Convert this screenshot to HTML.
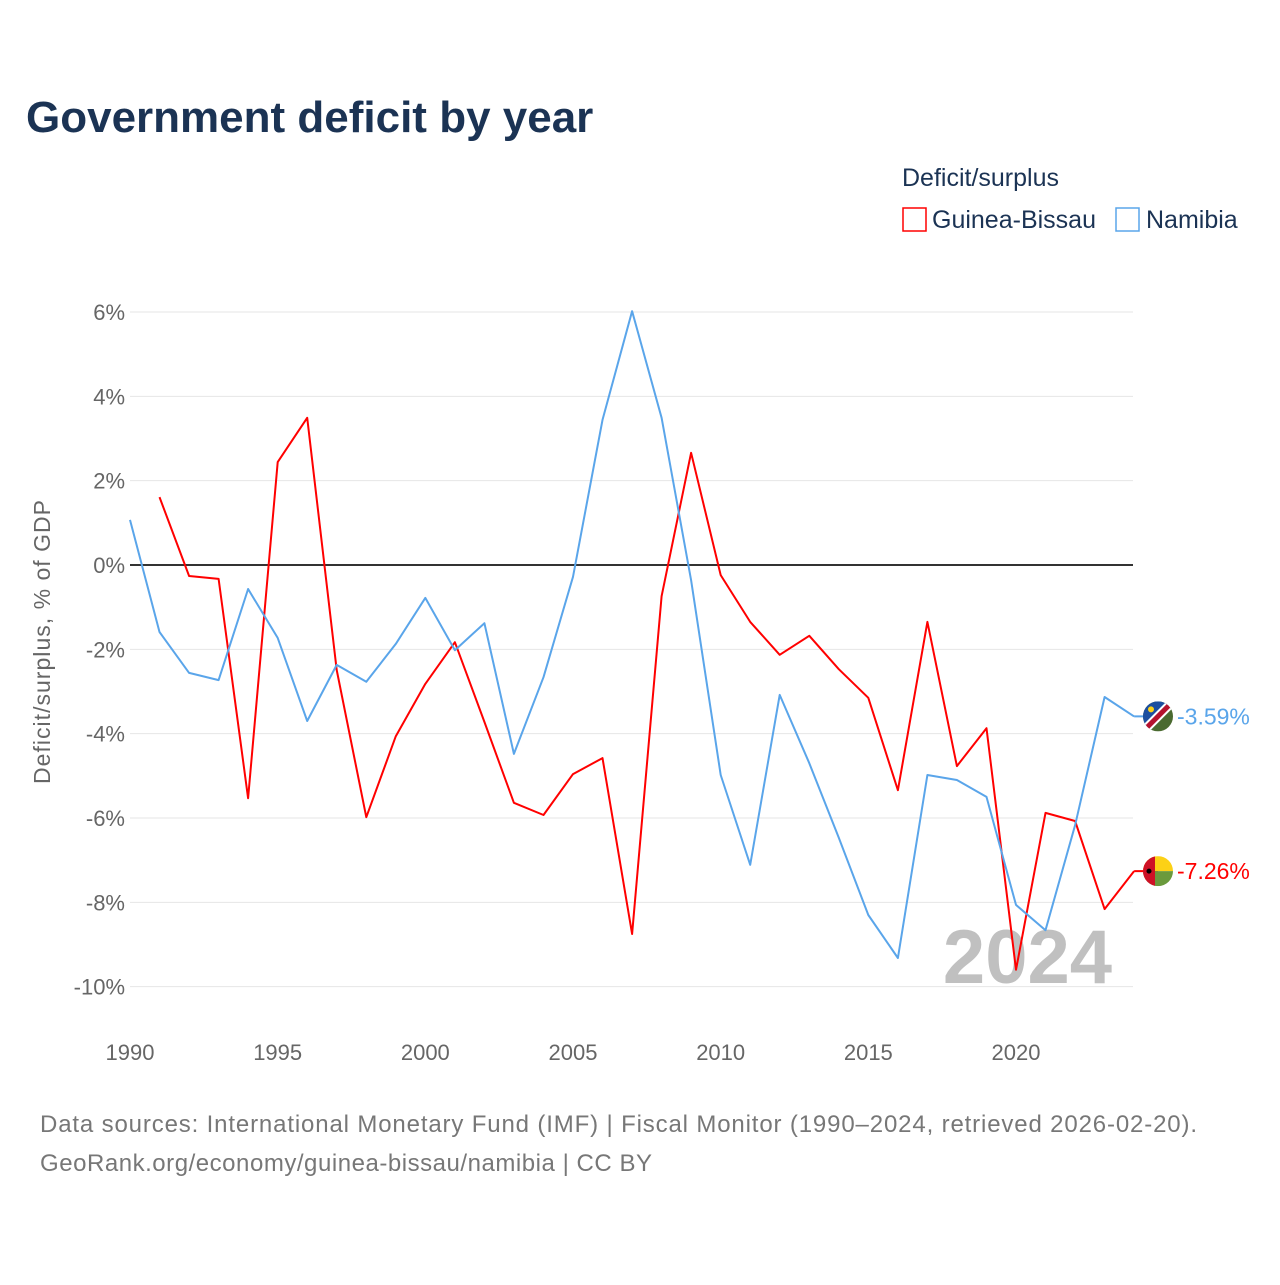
<!DOCTYPE html>
<html><head><meta charset="utf-8">
<style>
html,body{margin:0;padding:0;background:#fff;}
body{width:1280px;height:1280px;overflow:hidden;font-family:"Liberation Sans",sans-serif;}
svg text{font-family:"Liberation Sans",sans-serif;}
</style></head>
<body>
<svg id="chart" width="1280" height="1280" viewBox="0 0 1280 1280">
  <text x="26" y="132" font-size="44" font-weight="bold" fill="#1b3354">Government deficit by year</text>
  <text x="902" y="186" font-size="25" fill="#1b3354">Deficit/surplus</text>
  <g>
    <rect x="903" y="208" width="23" height="23" fill="none" stroke="#ff0000" stroke-width="1.5"/>
    <text x="932" y="228" font-size="25" fill="#1b3354">Guinea-Bissau</text>
  </g>
  <g>
    <rect x="1116" y="208" width="23" height="23" fill="none" stroke="#5aa5ea" stroke-width="1.5"/>
    <text x="1146" y="228" font-size="25" fill="#1b3354">Namibia</text>
  </g>
  <text transform="translate(50,642) rotate(-90)" text-anchor="middle" font-size="23" fill="#666" textLength="284" lengthAdjust="spacing">Deficit/surplus, % of GDP</text>
  <text x="1112" y="983" text-anchor="end" font-size="76" font-weight="bold" fill="#c0c0c0">2024</text>
  <g id="grid"></g>
  <g id="marks"></g>
  <text x="40" y="1132" font-size="24" fill="#777" textLength="1157" lengthAdjust="spacing">Data sources: International Monetary Fund (IMF) | Fiscal Monitor (1990–2024, retrieved 2026-02-20).</text>
  <text x="40" y="1171" font-size="24" fill="#777" textLength="612" lengthAdjust="spacing">GeoRank.org/economy/guinea-bissau/namibia | CC BY</text>
</svg>
<script>
const years = [1990,1991,1992,1993,1994,1995,1996,1997,1998,1999,2000,2001,2002,2003,2004,2005,2006,2007,2008,2009,2010,2011,2012,2013,2014,2015,2016,2017,2018,2019,2020,2021,2022,2023,2024];
const guineaBissau = [null,1.61,-0.26,-0.33,-5.53,2.44,3.49,-2.49,-5.98,-4.06,-2.82,-1.83,-3.72,-5.64,-5.93,-4.96,-4.58,-8.75,-0.74,2.66,-0.24,-1.35,-2.13,-1.68,-2.47,-3.15,-5.34,-1.35,-4.77,-3.87,-9.6,-5.88,-6.07,-8.16,-7.26];
const namibia = [1.07,-1.59,-2.56,-2.73,-0.57,-1.73,-3.70,-2.37,-2.77,-1.87,-0.78,-2.02,-1.38,-4.48,-2.66,-0.28,3.44,6.02,3.49,-0.36,-4.98,-7.11,-3.08,-4.70,-6.47,-8.30,-9.32,-4.98,-5.10,-5.50,-8.06,-8.66,-6.17,-3.13,-3.59];
const yTicks = [6,4,2,0,-2,-4,-6,-8,-10];
const xTicks = [1990,1995,2000,2005,2010,2015,2020];

const NS="http://www.w3.org/2000/svg";
const x = yr => 130 + (yr-1990)*(1016-130)/30;
const y = v => 565 - v*(565-312)/6;
const grid=document.getElementById('grid'), marks=document.getElementById('marks');
function mk(tag, attrs, parent){const e=document.createElementNS(NS,tag);for(const k in attrs)e.setAttribute(k,attrs[k]);parent.appendChild(e);return e;}

yTicks.forEach(t=>{
  const l=mk('line',{x1:130,x2:1133,y1:y(t),y2:y(t),stroke:t===0?'#333':'#e6e6e6','stroke-width':t===0?2:1},grid);
  
  
  const tx=mk('text',{x:125,y:y(t)+8,'text-anchor':'end','font-size':22,fill:'#666'},grid);
  tx.textContent=t+'%';
  
  
});
xTicks.forEach(t=>{
  const tx=mk('text',{x:x(t),y:1060,'text-anchor':'middle','font-size':22,fill:'#666'},grid);
  tx.textContent=t;
  
  
});

function series(vals,color,name){
  let d='';let pen=false;let last=null;
  vals.forEach((v,i)=>{if(v===null){pen=false;return;}d+=(pen?'L':'M')+x(years[i]).toFixed(1)+','+y(v).toFixed(1);pen=true;last=[x(years[i]),y(v),v];});
  const p=mk('path',{d:d,fill:'none',stroke:color,'stroke-width':2,'stroke-linejoin':'round'},marks);
  
  
  mk('line',{x1:last[0],y1:last[1],x2:1158,y2:last[1],stroke:color,'stroke-width':2},marks);
  return last;
}
const gb=series(guineaBissau,'#ff0000','guinea-bissau');
const nm=series(namibia,'#5aa5ea','namibia');

function flagGB(cy){
  const g=mk('g',{},marks);
  
  
  const cp=mk('clipPath',{id:'cgb'},g);mk('circle',{cx:1158,cy:cy,r:15},cp);
  const gg=mk('g',{'clip-path':'url(#cgb)'},g);
  mk('rect',{x:1143,y:cy-15,width:30,height:15,fill:'#fcd116'},gg);
  mk('rect',{x:1143,y:cy,width:30,height:15,fill:'#6a9a3c'},gg);
  mk('rect',{x:1143,y:cy-15,width:12,height:30,fill:'#ce1126'},gg);
  mk('circle',{cx:1149,cy:cy,r:2.5,fill:'#000'},gg);
}
function flagNM(cy){
  const g=mk('g',{},marks);
  
  
  const cp=mk('clipPath',{id:'cnm'},g);mk('circle',{cx:1158,cy:cy,r:15},cp);
  const gg=mk('g',{'clip-path':'url(#cnm)'},g);
  mk('rect',{x:1143,y:cy-15,width:30,height:30,fill:'#4a6a30'},gg);
  mk('polygon',{points:`1143,${cy-15} 1173,${cy-15} 1143,${cy+15}`,fill:'#1c4fa0'},gg);
  mk('line',{x1:1141,y1:cy+17,x2:1175,y2:cy-17,stroke:'#fff','stroke-width':9},gg);
  mk('line',{x1:1141,y1:cy+17,x2:1175,y2:cy-17,stroke:'#b5122e','stroke-width':5},gg);
  mk('circle',{cx:1151,cy:cy-7,r:3,fill:'#fcd116'},gg);
}
flagGB(gb[1]); flagNM(nm[1]);
function endLabel(last,color,name){
  const t=mk('text',{x:1177,y:last[1]+8,'font-size':23,fill:color},marks);
  t.textContent=last[2].toFixed(2)+'%';
  
  
}
endLabel(gb,'#ff0000','guinea-bissau');
endLabel(nm,'#5aa5ea','namibia');
</script>
</body></html>
